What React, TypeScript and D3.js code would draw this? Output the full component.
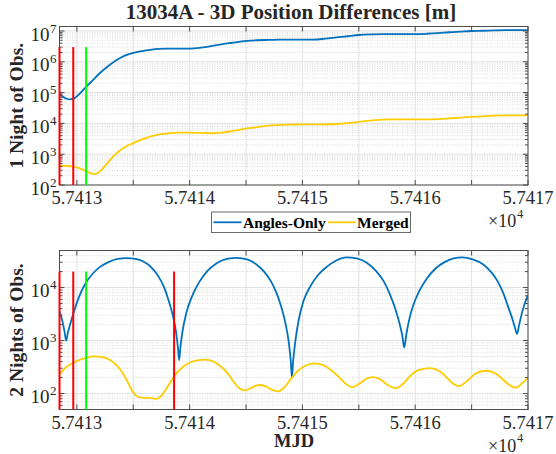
import React, { useEffect, useRef } from "react";
import * as d3 from "d3";

// MJD range of the two panels
const mjdStart = 57128.46;
const mjdEnd = 57170;

const xTicks = [57130, 57135, 57140, 57145, 57150, 57155, 57160, 57165, 57170];
const xTickLabels = ["5.7413", "", "5.7414", "", "5.7415", "", "5.7416", "", "5.7417"];

const seriesNames = ["Angles-Only", "Merged"];
const seriesColors = ["#0072BD", "#FFCC00"];

// top panel: 1 night of observations  [mjd, 3D difference in m]
const oneNightAngles: [number, number][] = [
  [57128.46, 91200], [57128.8, 72400], [57129.1, 63100], [57129.4, 60300], [57129.8, 66100],
  [57130.3, 95500], [57130.8, 151000], [57131.4, 251000], [57132.0, 417000], [57132.7, 692000],
  [57133.5, 1120000], [57134.2, 1550000], [57135.0, 1950000], [57135.8, 2240000], [57136.5, 2450000],
  [57137.3, 2630000], [57138.0, 2690000], [57139.0, 2690000], [57140.0, 2690000], [57141.0, 2880000],
  [57141.8, 3160000], [57142.7, 3630000], [57143.6, 4070000], [57144.4, 4470000], [57145.1, 4790000],
  [57146.0, 5010000], [57147.0, 5130000], [57148.0, 5250000], [57149.0, 5250000], [57150.0, 5250000],
  [57151.0, 5250000], [57152.0, 5620000], [57153.0, 6170000], [57154.0, 6760000], [57155.0, 7410000],
  [57156.0, 7760000], [57157.0, 7940000], [57158.0, 7940000], [57159.0, 7940000], [57160.0, 7940000],
  [57161.0, 8130000], [57162.0, 8510000], [57163.0, 9120000], [57164.0, 9550000], [57165.0, 10000000],
  [57166.0, 10200000], [57167.0, 10500000], [57168.0, 10700000], [57169.0, 10700000], [57170.0, 10700000],
];

const oneNightMerged: [number, number][] = [
  [57128.46, 427], [57129.0, 417], [57129.67, 398], [57130.2, 355], [57130.6, 309],
  [57131.0, 263], [57131.45, 229], [57131.8, 240], [57132.2, 316], [57132.8, 562],
  [57133.5, 1070], [57134.2, 1660], [57135.0, 2290], [57135.8, 3020], [57136.5, 3720],
  [57137.3, 4370], [57138.2, 4790], [57139.0, 5010], [57140.0, 5010], [57141.0, 4900],
  [57142.0, 4790], [57142.8, 5010], [57143.6, 5500], [57144.4, 6170], [57145.1, 6920],
  [57146.0, 7590], [57146.8, 8320], [57148.0, 8910], [57149.0, 9120], [57150.0, 9330],
  [57151.0, 9330], [57152.0, 9330], [57153.0, 9550], [57154.0, 10200], [57155.0, 11200],
  [57156.0, 12300], [57157.0, 13200], [57158.0, 13500], [57159.0, 13500], [57160.0, 13500],
  [57161.0, 13500], [57162.0, 13800], [57163.0, 14500], [57164.0, 15500], [57165.0, 16200],
  [57166.0, 17000], [57167.0, 17800], [57168.0, 18200], [57169.0, 18200], [57170.0, 18600],
];

// bottom panel: 2 nights of observations
const twoNightsAngles: [number, number][] = [
  [57128.46, 3550], [57128.7, 2400], [57128.9, 1510], [57129.05, 1000], [57129.2, 1410],
  [57129.4, 2000], [57129.7, 3310], [57130.2, 6760], [57130.8, 12300], [57131.4, 18200],
  [57132.0, 24000], [57132.8, 30200], [57133.6, 34700], [57134.4, 35900], [57135.2, 34700],
  [57135.9, 30900], [57136.6, 24000], [57137.2, 16600], [57137.7, 10500], [57138.1, 6030],
  [57138.5, 3020], [57138.8, 1410], [57138.97, 708], [57139.07, 427], [57139.17, 708],
  [57139.35, 1410], [57139.7, 3310], [57140.2, 6760], [57140.9, 13200], [57141.6, 20900],
  [57142.4, 28800], [57143.3, 34700], [57144.2, 36300], [57145.1, 33900], [57145.9, 27500],
  [57146.6, 20000], [57147.2, 13200], [57147.7, 7940], [57148.1, 4470], [57148.5, 2090],
  [57148.8, 891], [57148.97, 398], [57149.07, 200], [57149.17, 398], [57149.35, 891],
  [57149.65, 2340], [57150.1, 5620], [57150.7, 10500], [57151.4, 17400], [57152.2, 25100],
  [57153.0, 32400], [57153.9, 37200], [57154.8, 35500], [57155.7, 29500], [57156.5, 20900],
  [57157.2, 13200], [57157.7, 7940], [57158.2, 4170], [57158.6, 2140], [57158.85, 1260],
  [57159.03, 741], [57159.2, 1260], [57159.45, 2400], [57159.85, 4790], [57160.4, 8910],
  [57161.0, 14500], [57161.8, 22900], [57162.6, 30200], [57163.4, 35500], [57164.2, 37200],
  [57165.1, 33900], [57166.0, 27500], [57166.7, 20000], [57167.3, 13200], [57167.8, 7940],
  [57168.3, 3980], [57168.7, 2240], [57168.9, 1580], [57169.03, 1320], [57169.2, 1910],
  [57169.5, 3550], [57169.8, 5620], [57170.0, 7240],
];

const twoNightsMerged: [number, number][] = [
  [57128.46, 229], [57128.9, 295], [57129.67, 380], [57130.3, 437], [57130.8, 468],
  [57131.45, 501], [57132.1, 490], [57132.7, 457], [57133.3, 380], [57133.9, 275],
  [57134.5, 166], [57135.0, 105], [57135.4, 87], [57135.9, 83], [57136.5, 83],
  [57137.0, 79], [57137.4, 87], [57137.9, 120], [57138.4, 178], [57138.9, 251],
  [57139.5, 331], [57140.2, 398], [57140.8, 427], [57141.3, 437], [57141.9, 417],
  [57142.6, 347], [57143.3, 251], [57143.9, 166], [57144.4, 126], [57144.9, 115],
  [57145.4, 126], [57145.9, 141], [57146.3, 145], [57146.8, 135], [57147.3, 117],
  [57147.85, 110], [57148.4, 132], [57149.0, 191], [57149.6, 269], [57150.3, 339],
  [57151.1, 372], [57151.8, 347], [57152.5, 282], [57153.2, 209], [57153.8, 155],
  [57154.4, 132], [57155.0, 151], [57155.6, 186], [57156.2, 204], [57156.8, 191],
  [57157.5, 148], [57158.3, 126], [57158.9, 151], [57159.6, 219], [57160.4, 282],
  [57161.3, 302], [57162.1, 269], [57162.8, 200], [57163.4, 151], [57163.9, 138],
  [57164.5, 166], [57165.3, 234], [57166.3, 269], [57167.2, 234], [57167.9, 174],
  [57168.5, 138], [57168.95, 129], [57169.5, 158], [57170.0, 195],
];

// observation epochs drawn as vertical lines
const markersTop = [57128.46, 57129.68, 57130.82];
const markerColorsTop = ["#FF0000", "#FF0000", "#00FF00"];
const markersBottom = [57128.46, 57129.68, 57130.82, 57138.62];
const markerColorsBottom = ["#FF0000", "#FF0000", "#00FF00", "#FF0000"];

const FONT = "'Liberation Serif', 'Times New Roman', serif";

const App = () => {
  const chartRef = useRef<SVGSVGElement>(null);

  useEffect(() => {
    drawChart();
  }, []);

  const drawChart = () => {
    const width = 556;
    const height = 454;
    const left = 59.5;
    const right = 528;

    const svg = d3.select(chartRef.current).attr("width", width).attr("height", height);
    svg.selectAll("*").remove();
    svg.append("rect").attr("width", width).attr("height", height).attr("fill", "#fff");

    const x = d3.scaleLinear().domain([mjdStart, mjdEnd]).range([left, right]);

    const drawPanel = (cfg: any) => {
      const { top, bottom, yDomain, series, markers, markerColors, markerRange, ylabel, id } = cfg;
      const y = d3.scaleLog().domain(yDomain).range([bottom, top]);
      const g = svg.append("g");

      g.append("clipPath").attr("id", id).append("rect")
        .attr("x", left).attr("y", top).attr("width", right - left).attr("height", bottom - top);

      // log grid
      const lo = Math.floor(Math.log10(yDomain[0]));
      const hi = Math.ceil(Math.log10(yDomain[1]));
      const major: number[] = [];
      const minor: number[] = [];
      for (let e = lo; e <= hi; e++) {
        const v = Math.pow(10, e);
        if (v >= yDomain[0] && v <= yDomain[1]) major.push(v);
        for (let k = 2; k <= 9; k++) {
          const m = k * v;
          if (m > yDomain[0] && m < yDomain[1]) minor.push(m);
        }
      }

      g.selectAll(".minor").data(minor).enter().append("line")
        .attr("x1", left).attr("x2", right)
        .attr("y1", (d) => y(d)).attr("y2", (d) => y(d))
        .attr("stroke", "#cfcfcf").attr("stroke-width", 0.8)
        .attr("stroke-dasharray", "1,1.5");

      g.selectAll(".majory").data(major).enter().append("line")
        .attr("x1", left).attr("x2", right)
        .attr("y1", (d) => y(d)).attr("y2", (d) => y(d))
        .attr("stroke", "#e2e2e2").attr("stroke-width", 1);

      g.selectAll(".majorx").data(xTicks).enter().append("line")
        .attr("x1", (d) => x(d)).attr("x2", (d) => x(d))
        .attr("y1", top).attr("y2", bottom)
        .attr("stroke", "#e2e2e2").attr("stroke-width", 1);

      const line = d3.line<[number, number]>()
        .x((d) => x(d[0]))
        .y((d) => y(d[1]))
        .curve(d3.curveMonotoneX);

      series.forEach((s: [number, number][], i: number) => {
        g.append("path").datum(s)
          .attr("d", line)
          .attr("fill", "none")
          .attr("stroke", seriesColors[i])
          .attr("stroke-width", 1.8)
          .attr("clip-path", `url(#${id})`);
      });

      // box
      g.append("rect")
        .attr("x", left).attr("y", top).attr("width", right - left).attr("height", bottom - top)
        .attr("fill", "none").attr("stroke", "#4d4d4d").attr("stroke-width", 1);

      // ticks
      g.selectAll(".xt").data(xTicks).enter().append("path")
        .attr("d", (d) => `M${x(d)},${bottom}v-5M${x(d)},${top}v5`)
        .attr("stroke", "#4d4d4d");
      g.selectAll(".yt").data(major).enter().append("path")
        .attr("d", (d) => `M${left},${y(d)}h5M${right},${y(d)}h-5`)
        .attr("stroke", "#4d4d4d");
      g.selectAll(".ym").data(minor).enter().append("path")
        .attr("d", (d) => `M${left},${y(d)}h3M${right},${y(d)}h-3`)
        .attr("stroke", "#4d4d4d");

      // epoch lines sit on top of the axes box
      markers.forEach((m: number, i: number) => {
        g.append("line")
          .attr("x1", x(m)).attr("x2", x(m))
          .attr("y1", y(markerRange[0])).attr("y2", y(markerRange[1]))
          .attr("stroke", markerColors[i])
          .attr("stroke-width", 2);
      });

      // tick labels
      g.selectAll(".xl").data(xTicks).enter().append("text")
        .attr("x", (d) => x(d)).attr("y", bottom + 19)
        .attr("text-anchor", "middle")
        .attr("font-family", FONT).attr("font-size", 18.5).attr("fill", "#262626")
        .text((d, i) => xTickLabels[i]);

      major.forEach((v) => {
        const e = Math.round(Math.log10(v));
        g.append("text")
          .attr("x", 49.5).attr("y", y(v) + 9.5)
          .attr("text-anchor", "end")
          .attr("font-family", FONT).attr("font-size", 19).attr("fill", "#262626")
          .text("10");
        g.append("text")
          .attr("x", 50).attr("y", y(v) + 1.5)
          .attr("font-family", FONT).attr("font-size", 13).attr("fill", "#262626")
          .text(String(e));
      });

      // exponent multiplier
      g.append("text")
        .attr("x", 488).attr("y", bottom + 42)
        .attr("font-family", FONT).attr("font-size", 18).attr("fill", "#262626")
        .text("\u00d710");
      g.append("text")
        .attr("x", 517).attr("y", bottom + 32.5)
        .attr("font-family", FONT).attr("font-size", 12.5).attr("fill", "#262626")
        .text("4");

      // y label
      g.append("text")
        .attr("transform", `translate(23,${(top + bottom) / 2}) rotate(-90)`)
        .attr("text-anchor", "middle")
        .attr("font-family", FONT).attr("font-size", 19.5).attr("font-weight", "bold")
        .attr("fill", "#262626")
        .text(ylabel);
    };

    drawPanel({
      id: "clipTop",
      top: 26.5,
      bottom: 185,
      yDomain: [100, 1.4e7],
      series: [oneNightAngles, oneNightMerged],
      markers: markersTop,
      markerColors: markerColorsTop,
      markerRange: [100, 3e6],
      ylabel: "1 Night of Obs.",
    });

    drawPanel({
      id: "clipBottom",
      top: 250.5,
      bottom: 409.5,
      yDomain: [50, 5e4],
      series: [twoNightsAngles, twoNightsMerged],
      markers: markersBottom,
      markerColors: markerColorsBottom,
      markerRange: [50, 2e4],
      ylabel: "2 Nights of Obs.",
    });

    // title
    svg.append("text")
      .attr("x", 291).attr("y", 19)
      .attr("text-anchor", "middle")
      .attr("font-family", FONT).attr("font-size", 21).attr("font-weight", "bold")
      .attr("fill", "#262626")
      .text("13034A - 3D Position Differences [m]");

    // x label
    svg.append("text")
      .attr("x", 294).attr("y", 447)
      .attr("text-anchor", "middle")
      .attr("font-family", FONT).attr("font-size", 18.5).attr("font-weight", "bold")
      .attr("fill", "#262626")
      .text("MJD");

    // legend
    const lg = svg.append("g");
    lg.append("rect")
      .attr("x", 211.5).attr("y", 212).attr("width", 199).attr("height", 20.5)
      .attr("fill", "#fff").attr("stroke", "#6b6b6b").attr("stroke-width", 1);
    const items = [
      { x1: 213.5, x2: 241.5, tx: 243 },
      { x1: 328, x2: 355.5, tx: 357 },
    ];
    items.forEach((it, i) => {
      lg.append("line")
        .attr("x1", it.x1).attr("x2", it.x2).attr("y1", 222.3).attr("y2", 222.3)
        .attr("stroke", seriesColors[i]).attr("stroke-width", 1.8);
      lg.append("text")
        .attr("x", it.tx).attr("y", 227.5)
        .attr("font-family", FONT).attr("font-size", 15.5).attr("font-weight", "bold")
        .attr("fill", "#000")
        .text(seriesNames[i]);
    });
  };

  return <svg ref={chartRef} style={{ position: "absolute", left: 0, top: 0 }}></svg>;
};

export default App;
